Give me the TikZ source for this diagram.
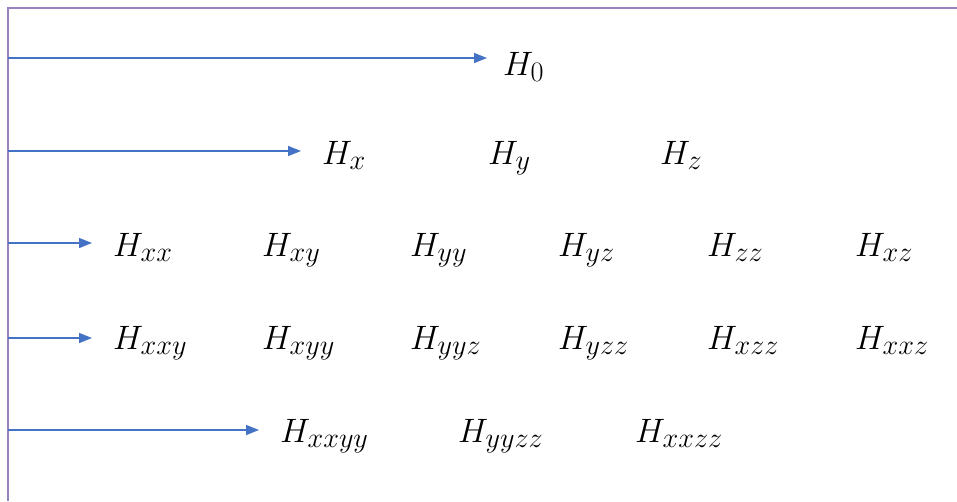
\documentclass[tikz,border=0pt]{standalone}
\usepackage{graphicx}
\usetikzlibrary{arrows.meta}
\definecolor{arrblue}{RGB}{68,114,196}
\definecolor{framepurple}{RGB}{150,130,190}
\newcommand{\biglab}[1]{\scalebox{1.36}{$#1$}}
\begin{document}
\begin{tikzpicture}[x=1pt,y=-1pt,
  lab/.style={inner sep=0pt, anchor=base west, font=\fontsize{24.88}{30}\selectfont},
  arr/.style={-{Triangle[length=13pt,width=10pt]}, draw=arrblue, line width=1.5pt, shorten >=21pt},
  framestyle/.style={draw=framepurple, line width=2.5pt}]
\useasboundingbox (0,0) rectangle (957,501);
% frame
\coordinate (ftr) at (957,8);
\coordinate (ftl) at (8,8);
\coordinate (fbl) at (8,501);
\draw[framestyle] (ftr) -- (ftl) -- (fbl);
% row 1
\node[lab] (h0) at (503,75) {\biglab{H_0}};
% row 2
\node[lab] (hx) at (322,164) {\biglab{H_x}};
\node[lab] (hy) at (488,164) {\biglab{H_y}};
\node[lab] (hz) at (660,164) {\biglab{H_z}};
% row 3
\node[lab] (hxx) at (113,256) {\biglab{H_{xx}}};
\node[lab] (hxy) at (262,256) {\biglab{H_{xy}}};
\node[lab] (hyy) at (410,256) {\biglab{H_{yy}}};
\node[lab] (hyz) at (558,256) {\biglab{H_{yz}}};
\node[lab] (hzz) at (707,256) {\biglab{H_{zz}}};
\node[lab] (hxz) at (855,256) {\biglab{H_{xz}}};
% row 4
\node[lab] (hxxy) at (113,349) {\biglab{H_{xxy}}};
\node[lab] (hxyy) at (262,349) {\biglab{H_{xyy}}};
\node[lab] (hyyz) at (410,349) {\biglab{H_{yyz}}};
\node[lab] (hyzz) at (558,349) {\biglab{H_{yzz}}};
\node[lab] (hxzz) at (707,349) {\biglab{H_{xzz}}};
\node[lab] (hxxz) at (855,349) {\biglab{H_{xxz}}};
% row 5
\node[lab] (hxxyy) at (280,442) {\biglab{H_{xxyy}}};
\node[lab] (hyyzz) at (458,442) {\biglab{H_{yyzz}}};
\node[lab] (hxxzz) at (635,442) {\biglab{H_{xxzz}}};
% arrow starts
\coordinate (s1) at (8,58);
\coordinate (s2) at (8,151);
\coordinate (s3) at (8,243);
\coordinate (s4) at (8,338);
\coordinate (s5) at (8,430);
\draw[arr, shorten >=16pt] (s1) -- (s1 -| h0.west);
\draw[arr] (s2) -- (s2 -| hx.west);
\draw[arr] (s3) -- (s3 -| hxx.west);
\draw[arr] (s4) -- (s4 -| hxxy.west);
\draw[arr] (s5) -- (s5 -| hxxyy.west);
\end{tikzpicture}
\end{document}
